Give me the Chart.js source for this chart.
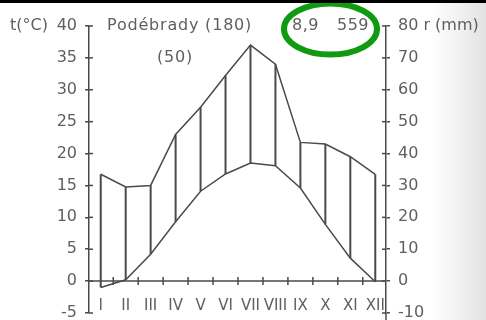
<!DOCTYPE html>
<html>
<head>
<meta charset="utf-8">
<script src="https://cdn.jsdelivr.net/npm/chart.js@4/dist/chart.umd.min.js"></script>
<style>
  html, body { margin: 0; padding: 0; }
  body {
    width: 486px; height: 320px; overflow: hidden; position: relative;
    background: linear-gradient(to right, #ffffff 0px, #ffffff 430px, #f1f1f1 460px, #e2e2e2 486px);
  }
  #topband { position: absolute; left: 0; top: 0; width: 486px; height: 3px; background: #000; }
  canvas { position: absolute; left: 0; top: 0; }
</style>
</head>
<body>
<canvas id="c" width="486" height="320"></canvas>
<div id="topband"></div>
<script>
// Climate diagram for Poděbrady: monthly mean temperature and precipitation
const months = ['I', 'II', 'III', 'IV', 'V', 'VI', 'VII', 'VIII', 'IX', 'X', 'XI', 'XII'];
const tempC = [-1.0, 0.2, 4.2, 9.3, 14.1, 16.8, 18.5, 18.1, 14.6, 8.9, 3.6, -0.1];
const precipMm = [33.5, 29.5, 30, 46, 54.5, 64.5, 74, 68, 43.5, 43, 39, 33.5];
const station = 'Podébrady (180)';
const years = '(50)';
const meanTemp = '8,9';
const annualPrecip = '559';

const FONT = '"DejaVu Sans", sans-serif';
const TEXT = '#5f5f5f';
const INK = '#4a4a4a';

const pts = arr => arr.map((v, i) => ({ x: i + 1, y: v }));

// fixed side widths; label overhang is left to the layout padding
const fixWidth = w => s => {
  s.width = w;
  s.paddingTop = 0;
  s.paddingBottom = 0;
};

const decor = {
  id: 'decor',
  afterDraw(chart) {
    const { ctx, chartArea: a } = chart;
    const xs = chart.scales.x, ys = chart.scales.y, yr = chart.scales.y1;
    ctx.save();

    // vertical hatch between temperature and precipitation curves
    ctx.strokeStyle = INK;
    ctx.lineWidth = 2;
    months.forEach((m, i) => {
      const px = xs.getPixelForValue(i + 1);
      ctx.beginPath();
      ctx.moveTo(px, ys.getPixelForValue(tempC[i]));
      ctx.lineTo(px, yr.getPixelForValue(precipMm[i]));
      ctx.stroke();
    });

    // inner halves of the axis tick marks
    ctx.lineWidth = 1.5;
    ys.ticks.forEach(t => {
      const py = ys.getPixelForValue(t.value);
      ctx.beginPath(); ctx.moveTo(a.left, py); ctx.lineTo(a.left + 4, py); ctx.stroke();
    });
    yr.ticks.forEach(t => {
      const py = yr.getPixelForValue(t.value);
      ctx.beginPath(); ctx.moveTo(a.right - 4, py); ctx.lineTo(a.right, py); ctx.stroke();
    });
    // precipitation axis runs on past its last tick
    ctx.beginPath(); ctx.moveTo(a.right, a.bottom); ctx.lineTo(a.right, chart.height); ctx.stroke();

    // month axis along 0 °C
    const y0 = ys.getPixelForValue(0);
    ctx.beginPath(); ctx.moveTo(a.left, y0); ctx.lineTo(a.right, y0); ctx.stroke();
    for (let k = 1; k < months.length; k++) {
      const px = xs.getPixelForValue(k + 0.5);
      ctx.beginPath(); ctx.moveTo(px, y0 - 4); ctx.lineTo(px, y0 + 4); ctx.stroke();
    }
    ctx.fillStyle = TEXT;
    ctx.font = '15px ' + FONT;
    ctx.textAlign = 'center';
    ctx.textBaseline = 'middle';
    months.forEach((m, i) => ctx.fillText(m, xs.getPixelForValue(i + 1), y0 + 25));

    // headings
    ctx.font = '16px ' + FONT;
    ctx.textAlign = 'left';
    ctx.fillText('t(°C)', 10, ys.getPixelForValue(40));
    ctx.letterSpacing = '0.8px';
    ctx.fillText(station, 107, ys.getPixelForValue(40));
    ctx.fillText(years, 157, ys.getPixelForValue(35));
    ctx.letterSpacing = '0.5px';
    ctx.fillText(meanTemp, 292, ys.getPixelForValue(40));
    ctx.fillText(annualPrecip, 337, ys.getPixelForValue(40));
    ctx.letterSpacing = '0px';

    // green highlight ring around the annual figures
    ctx.strokeStyle = '#109a10';
    ctx.lineWidth = 6;
    ctx.beginPath();
    ctx.ellipse(330.5, 29, 46.5, 25.5, 0, 0, Math.PI * 2);
    ctx.stroke();
    ctx.restore();
  }
};

new Chart(document.getElementById('c'), {
  type: 'line',
  data: {
    datasets: [
      { label: 't', data: pts(tempC), yAxisID: 'y', borderColor: INK, borderWidth: 1.5, pointRadius: 0, tension: 0 },
      { label: 'r', data: pts(precipMm), yAxisID: 'y1', borderColor: INK, borderWidth: 1.5, pointRadius: 0, tension: 0 }
    ]
  },
  options: {
    responsive: false,
    animation: false,
    devicePixelRatio: 1,
    layout: { padding: { top: 26, bottom: 7, left: 0, right: 0 } },
    plugins: { legend: { display: false }, tooltip: { enabled: false } },
    scales: {
      x: { type: 'linear', min: 0.53, max: 12.43, display: false },
      y: {
        position: 'left', min: -5, max: 40,
        afterFit: fixWidth(89),
        ticks: { stepSize: 5, color: TEXT, font: { family: FONT, size: 16 }, padding: 8 },
        grid: { drawOnChartArea: false, color: INK, lineWidth: 1.5, tickLength: 4 },
        border: { display: true, color: INK, width: 1.5 }
      },
      y1: {
        position: 'right', min: -10, max: 80,
        afterFit: fixWidth(100),
        ticks: {
          stepSize: 10, color: TEXT, font: { family: FONT, size: 16 }, padding: 8,
          callback: v => (v === 80 ? '80 r (mm)' : String(v))
        },
        grid: { drawOnChartArea: false, color: INK, lineWidth: 1.5, tickLength: 4 },
        border: { display: true, color: INK, width: 1.5 }
      }
    }
  },
  plugins: [decor]
});
</script>
</body>
</html>
